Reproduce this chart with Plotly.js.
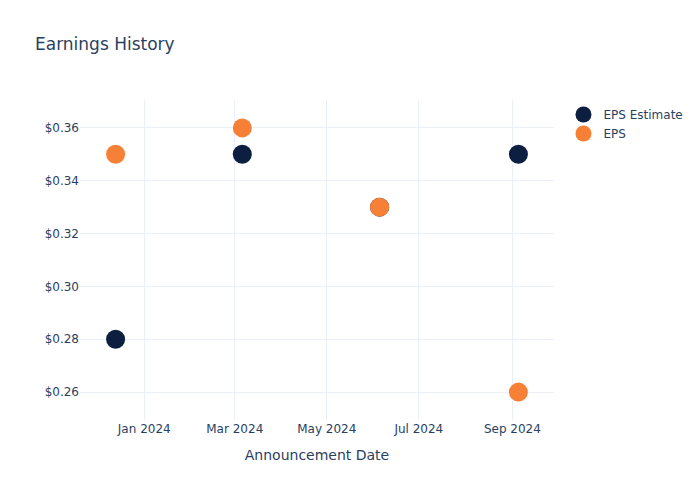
<!DOCTYPE html>
<html>
<head>
<meta charset="utf-8">
<script src="https://cdn.plot.ly/plotly-3.0.1.min.js"></script>
<style>html,body{margin:0;padding:0;background:#fff;}</style>
</head>
<body>
<div id="chart" style="width:700px;height:500px;"></div>
<script>
const dates = ["2023-12-13", "2024-03-06", "2024-06-05", "2024-09-05"];
const epsEstimate = [0.28, 0.35, 0.33, 0.35];
const epsActual = [0.35, 0.36, 0.33, 0.26];
const seriesNames = ["EPS Estimate", "EPS"];

const traces = [
  {x: dates, y: epsEstimate, name: seriesNames[0], type: "scatter", mode: "markers",
   marker: {color: "#0c1f40", size: 19}},
  {x: dates, y: epsActual, name: seriesNames[1], type: "scatter", mode: "markers",
   marker: {color: "#f68136", size: 19}}
];

const layout = {
  width: 700, height: 500,
  paper_bgcolor: "#fff", plot_bgcolor: "#fff",
  font: {family: "'DejaVu Sans', verdana, sans-serif", color: "#2a3f5f", size: 12},
  title: {text: "Earnings History", x: 0.05, font: {size: 17, color: "#2a3f5f"}},
  margin: {t: 100, b: 80, l: 80, r: 80},
  xaxis: {title: {text: "Announcement Date", font: {size: 14}, standoff: 15}, automargin: true,
          gridcolor: "#EBF0F8", zeroline: false, showline: false, ticks: "", tickfont: {size: 12}},
  yaxis: {tickprefix: "$", tickformat: ".2f", gridcolor: "#EBF0F8", zeroline: false,
          showline: false, ticks: "", tickfont: {size: 12}},
  legend: {font: {size: 12}},
  hovermode: "closest"
};

Plotly.newPlot("chart", traces, layout, {displayModeBar: false});
</script>
</body>
</html>
